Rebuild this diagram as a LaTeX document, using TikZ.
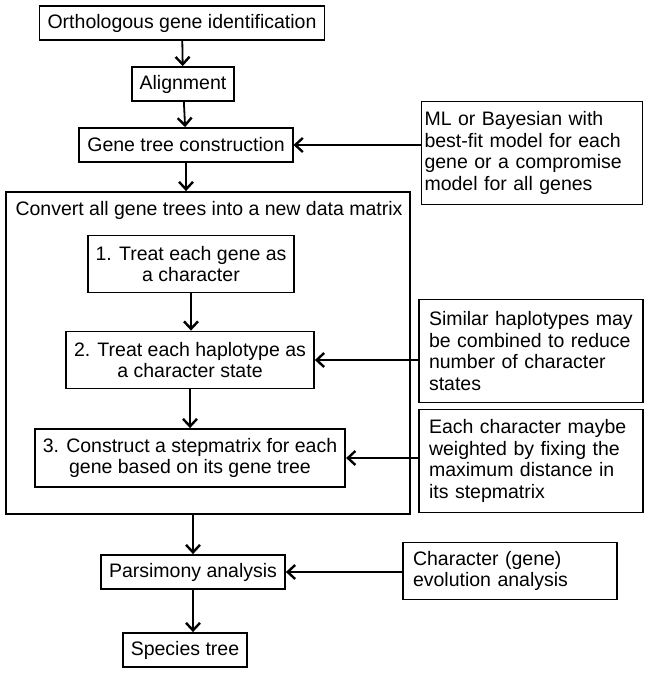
\documentclass[tikz,border=0pt]{standalone}
\usepackage{fontspec}
\setmainfont{Liberation Sans}
\usetikzlibrary{arrows.meta}

\tikzset{
  box/.style={draw, line width=1.8pt, inner xsep=8pt, inner ysep=0pt,
    minimum height=34pt, align=center, font=\fontsize{19.5}{21.7}\selectfont},
  notebox/.style={box, align=left, inner xsep=10pt},
  flow/.style={line width=1.8pt, -{Straight Barb[length=7.5pt,width=14pt,line width=2.4pt]}}
}

\begin{document}
\begin{tikzpicture}[x=1pt,y=-1pt]
        \useasboundingbox (0,0) rectangle (650,674);

        % main chain
        \node[box] (orth) at (182,23) {Orthologous gene identification};
        \node[box] (align) at (183,84) {Alignment};
        \node[box] (gene) at (186,145) {Gene tree construction};

        % data matrix block
        \node[draw, line width=1.8pt, minimum width=404pt, minimum height=322pt] (matrix) at (208,353) {};
        \node[font=\fontsize{19.5}{21.7}\selectfont] (title) at (209,210) {Convert all gene trees into a new data matrix};
        \node[box, minimum height=57pt] (step1) at (191,264) {1. Treat each gene as\\a character};
        \node[box, minimum height=57pt] (step2) at (190,360) {2. Treat each haplotype as\\a character state};
        \node[box, minimum height=58pt] (step3) at (190,458) {3. Construct a stepmatrix for each\\gene based on its gene tree};

        \node[box] (pars) at (193,572) {Parsimony analysis};
        \node[box] (species) at (185,650) {Species tree};

        % notes on the right
        \node[notebox, inner xsep=3pt, text width=215pt, minimum height=103pt] (ml) at (532,153) {ML or Bayesian with\\best-fit model for each\\gene or a compromise\\model for all genes};
        \node[notebox, text width=204pt, minimum height=103pt] (sim) at (531,351) {Similar haplotypes may\\be combined to reduce\\number of character\\states};
        \node[notebox, text width=204pt, minimum height=103pt] (each) at (531,461) {Each character maybe\\weighted by fixing the\\maximum distance in\\its stepmatrix};
        \node[notebox, text width=194pt, minimum height=57pt] (chr) at (510,571) {Character (gene)\\evolution analysis};

        % arrows down
        \draw[flow] (orth) -- (align);
        \draw[flow] (align) -- (gene);
        \draw[flow] (gene.south) -- (gene.south |- matrix.north);
        \draw[flow] (step1) -- (step1.south |- step2.north);
        \draw[flow] (step2) -- (step2.south |- step3.north);
        \draw[flow] (pars.north |- matrix.south) -- (pars.north);
        \draw[flow] (pars.south) -- (pars.south |- species.north);

        % arrows from notes
        \draw[flow] (ml.west |- gene.east) -- (gene.east);
        \draw[flow] (sim.west |- step2.east) -- (step2.east);
        \draw[flow] (each.west |- step3.east) -- (step3.east);
        \draw[flow] (chr.west |- pars.east) -- (pars.east);

    \end{tikzpicture}
\end{document}
